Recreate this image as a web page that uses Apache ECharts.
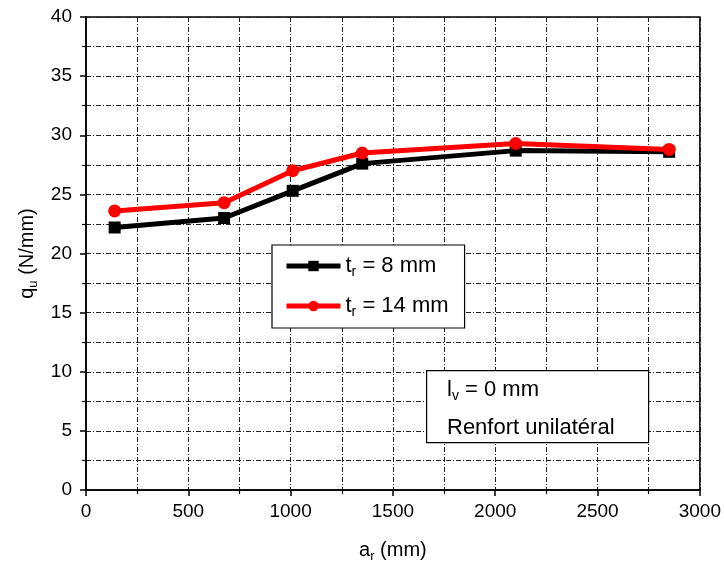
<!DOCTYPE html>
<html>
<head>
<meta charset="utf-8">
<script src="https://cdn.jsdelivr.net/npm/echarts@6/dist/echarts.min.js"></script>
<style>
  html, body { margin: 0; padding: 0; background: #fff; }
  #chart { width: 724px; height: 573px; }
</style>
</head>
<body>
<div id="chart"></div>
<script>
// Reinforcement length a_r (mm) and ultimate load q_u (N/mm)
const arValues = [140, 675, 1010, 1350, 2100, 2850];
const qu8 = [22.2, 23.0, 25.3, 27.6, 28.7, 28.6];
const qu14 = [23.6, 24.3, 27.0, 28.5, 29.3, 28.8];
const seriesNames = ['t_r = 8 mm', 't_r = 14 mm'];
const legendLabels = ['{a|t}{s|r}{a| = 8 mm}', '{a|t}{s|r}{a| = 14 mm}'];

const FONT = 'Liberation Sans, Arial, sans-serif';
const gridLine = { color: '#222', width: 1, type: [5, 2, 1, 2] };

const chart = echarts.init(document.getElementById('chart'), null, { renderer: 'canvas' });

function pairs(xs, ys) { return xs.map((x, i) => [x, ys[i]]); }

const subRich = {
  a: { fontFamily: FONT, fontSize: 20, color: '#000' },
  s: { fontFamily: FONT, fontSize: 13, color: '#000', padding: [12, 0, 0, 0] }
};

chart.setOption({
  animation: false,
  backgroundColor: '#fff',
  grid: { left: 86, right: 24, top: 17, bottom: 83, show: true, borderColor: '#000', borderWidth: 1.5, backgroundColor: 'transparent' },
  xAxis: {
    type: 'value', min: 0, max: 3000, interval: 500,
    name: '{a|a}{s|r}{a| (mm)}', nameLocation: 'middle', nameGap: 48,
    nameTextStyle: { rich: subRich },
    axisLine: { show: true, lineStyle: { color: '#000', width: 1.5 } },
    axisTick: { show: true, inside: false, length: 6, lineStyle: { color: '#000', width: 1.5 } },
    minorTick: { show: true, splitNumber: 2, length: 4, lineStyle: { color: '#000', width: 1.2 } },
    axisLabel: { fontFamily: FONT, fontSize: 19, color: '#000', margin: 12, formatter: v => String(v) },
    splitLine: { show: true, lineStyle: gridLine },
    minorSplitLine: { show: true, lineStyle: gridLine }
  },
  yAxis: {
    type: 'value', min: 0, max: 40, interval: 5,
    name: '{a|q}{s|u}{a| (N/mm)}', nameLocation: 'middle', nameGap: 46, nameRotate: 90,
    nameTextStyle: { rich: subRich },
    axisLine: { show: true, lineStyle: { color: '#000', width: 1.5 } },
    axisTick: { show: true, inside: false, length: 6, lineStyle: { color: '#000', width: 1.5 } },
    minorTick: { show: true, splitNumber: 2, length: 4, lineStyle: { color: '#000', width: 1.2 } },
    axisLabel: { fontFamily: FONT, fontSize: 19, color: '#000', margin: 14, formatter: v => String(v) },
    splitLine: { show: true, lineStyle: gridLine },
    minorSplitLine: { show: true, lineStyle: gridLine }
  },
  legend: {
    orient: 'vertical', left: 272, top: 245,
    padding: [10, 16, 9, 12], itemGap: 16,
    itemWidth: 54, itemHeight: 13,
    borderColor: '#000', borderWidth: 1.2, backgroundColor: '#fff',
    data: seriesNames,
    lineStyle: { width: 5 },
    formatter: name => legendLabels[seriesNames.indexOf(name)],
    textStyle: { rich: {
      a: { fontFamily: FONT, fontSize: 22, color: '#000' },
      s: { fontFamily: FONT, fontSize: 14, color: '#000', padding: [12, 0, 0, 0] }
    } }
  },
  graphic: [
    { type: 'rect', left: 426, top: 370, z: 100,
      shape: { x: 0, y: 0, width: 222, height: 72 },
      style: { fill: '#fff', stroke: '#000', lineWidth: 1.2 } },
    { type: 'text', left: 447, top: 379, z: 101,
      style: { text: '{a|l}{s|v}{a| = 0 mm}', rich: {
        a: { fontFamily: FONT, fontSize: 22, fill: '#000' },
        s: { fontFamily: FONT, fontSize: 14, fill: '#000', padding: [12, 0, 0, 0] } } } },
    { type: 'text', left: 447, top: 417, z: 101,
      style: { text: 'Renfort unilatéral', font: '22px ' + FONT, fill: '#000' } }
  ],
  series: [
    {
      name: seriesNames[0], type: 'line', data: pairs(arValues, qu8),
      symbol: 'rect', symbolSize: 12,
      lineStyle: { color: '#000', width: 5 },
      itemStyle: { color: '#000' }, z: 3
    },
    {
      name: seriesNames[1], type: 'line', data: pairs(arValues, qu14),
      symbol: 'circle', symbolSize: 13,
      lineStyle: { color: '#ff0000', width: 5 },
      itemStyle: { color: '#ff0000' }, z: 4
    }
  ]
});
</script>
</body>
</html>
